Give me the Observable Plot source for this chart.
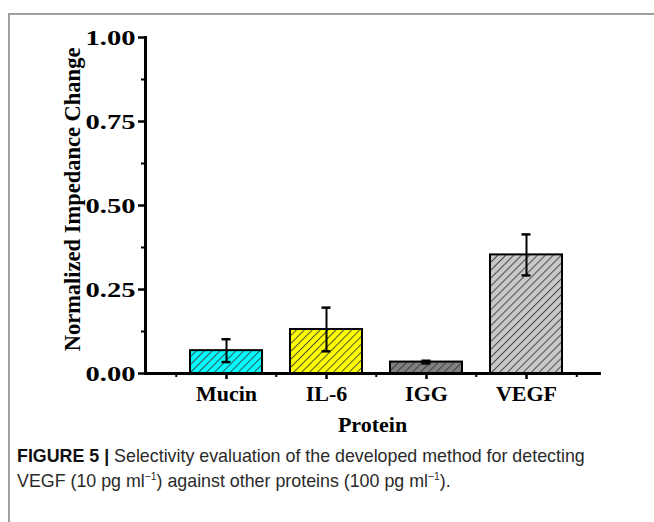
<!DOCTYPE html>
<html>
<head>
<meta charset="utf-8">
<script src="https://cdn.jsdelivr.net/npm/d3@7"></script>
<script src="https://cdn.jsdelivr.net/npm/@observablehq/plot@0.6"></script>
<style>
  html, body { margin: 0; padding: 0; background: #fff; }
  body { width: 654px; height: 522px; position: relative; overflow: hidden; }
  #frame { position: absolute; left: 8px; top: 13px; width: 660px; height: 520px;
           border-top: 2px solid #a0a0a0; border-left: 2px solid #a0a0a0; }
  #chart { position: absolute; left: 0; top: 0; }
  #caption { position: absolute; left: 17px; top: 443px; width: 700px;
             font-family: "Liberation Sans", sans-serif;
             font-size: 19px; line-height: 25px; color: #2a2a2a;
             transform: scaleX(0.938); transform-origin: 0 0; white-space: nowrap; }
  #caption b { font-weight: bold; color: #111; }
  #caption sup { font-size: 11px; line-height: 0; vertical-align: 0.6em; }
</style>
</head>
<body>
<div id="frame"></div>
<div id="chart"></div>
<div id="caption"><b>FIGURE 5 |</b> Selectivity evaluation of the developed method for detecting<br>VEGF (10 pg ml<sup>−1</sup>) against other proteins (100 pg ml<sup>−1</sup>).</div>
<script>
const categories = ["Mucin", "IL-6", "IGG", "VEGF"];
const values = [0.068, 0.131, 0.034, 0.353];
const errors = [0.034, 0.065, 0.004, 0.061];
const colors = ["#00ffff", "#ffff00", "#808080", "#c8c8c8"];
const yTicks = [0, 0.25, 0.5, 0.75, 1.0];
const yMinorTicks = [0.125, 0.375, 0.625, 0.875];

const data = categories.map((c, i) => ({cat: c, val: values[i], err: errors[i], idx: i}));

const font = '"Liberation Serif", "Times New Roman", serif';
const xRange = [175, 577];
const step = (xRange[1] - xRange[0]) / categories.length;
const ink = {stroke: "black", strokeOpacity: 1};

const plot = Plot.plot({
  width: 654,
  height: 445,
  marginLeft: 145,
  marginRight: 55,
  marginTop: 37,
  marginBottom: 72,
  style: {fontFamily: font, fontWeight: "bold", color: "black", background: "transparent", overflow: "visible"},
  x: {domain: categories, range: xRange, paddingInner: 0.28, paddingOuter: 0.14},
  y: {domain: [0, 1]},
  marks: [
    Plot.barY(data, {x: "cat", y: "val", fill: d => `url(#hatch-${d.idx})`, stroke: "black", strokeWidth: 2}),
    Plot.ruleX(data, {x: "cat", y1: d => d.val - d.err, y2: d => d.val + d.err, stroke: "black", strokeWidth: 2}),
    Plot.tickY(data, {x: "cat", y: d => d.val + d.err, stroke: "black", strokeWidth: 2.5, insetLeft: 31.5, insetRight: 31.5}),
    Plot.tickY(data, {x: "cat", y: d => d.val - d.err, stroke: "black", strokeWidth: 2.5, insetLeft: 31.5, insetRight: 31.5}),
    Plot.axisY({ticks: yTicks, tickFormat: d3.format(".2f"), tickSize: 7, tickPadding: 3, ...ink, strokeWidth: 2.5, fontSize: 22, fontWeight: "bold", label: null, fill: "black", className: "ymajor"}),
    Plot.axisY({ticks: yMinorTicks, tickFormat: null, text: null, tickSize: 4, ...ink, strokeWidth: 2, label: null}),
    Plot.axisX({tickSize: 6, tickPadding: 6, ...ink, strokeWidth: 2.5, fontSize: 22, fontWeight: "bold", label: null, fill: "black"}),
    Plot.axisX({tickSize: 4, text: null, ...ink, strokeWidth: 2, dx: -step / 2, label: null}),
    Plot.axisX({ticks: [categories[categories.length - 1]], tickSize: 4, text: null, ...ink, strokeWidth: 2, dx: step / 2, label: null}),
    Plot.frame({anchor: "left", stroke: "black", strokeWidth: 3}),
    Plot.frame({anchor: "bottom", stroke: "black", strokeWidth: 3}),
    Plot.text(["Protein"], {frameAnchor: "bottom", dy: 58, fontSize: 22, fontWeight: "bold", text: d => d, fill: "black"}),
    Plot.text(["Normalized Impedance Change"], {frameAnchor: "left", textAnchor: "middle", dx: -73, dy: -6, rotate: -90, fontSize: 22.5, fontWeight: "bold", text: d => d, fill: "black"})
  ]
});

// hatch patterns
const svg = d3.select(plot);
const defs = svg.insert("defs", ":first-child");
colors.forEach((c, i) => {
  const p = defs.append("pattern")
    .attr("id", `hatch-${i}`)
    .attr("patternUnits", "userSpaceOnUse")
    .attr("width", 5.6).attr("height", 5.6)
    .attr("patternTransform", "rotate(45)");
  p.append("rect").attr("width", 5.6).attr("height", 5.6).attr("fill", c);
  p.append("line").attr("x1", 0.5).attr("y1", 0).attr("x2", 0.5).attr("y2", 5.6)
    .attr("stroke", "#333").attr("stroke-width", 1).attr("stroke-opacity", 0.85);
});
// the reference's tick digits are drawn wider: stretch them horizontally about their right edge
svg.selectAll(".ymajor text").each(function() {
  const t = this.getAttribute("transform") || "";
  this.setAttribute("transform", (t + " scale(1.3,1)").trim());
});

document.getElementById("chart").appendChild(plot);
</script>
</body>
</html>
